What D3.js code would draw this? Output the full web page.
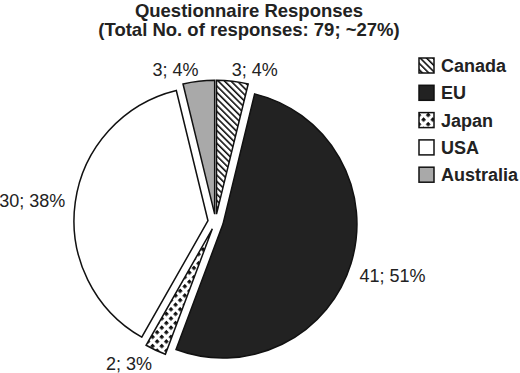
<!DOCTYPE html>
<html lang="en">
<head>
    <meta charset="UTF-8">
    <title>Questionnaire Responses</title>
    <script src="https://d3js.org/d3.v7.min.js"></script>
    <style>
        body { margin: 0; background: #fff; }
        text { font-family: "Liberation Sans", Arial, Helvetica, sans-serif; }
    </style>
</head>
<body>
<div id="chart"></div>

<script>

// data
const regions = ["Canada", "EU", "Japan", "USA", "Australia"];
const responses = [3, 41, 2, 30, 3];
const percents = [4, 51, 3, 38, 4];
const titleLines = ["Questionnaire Responses", "(Total No. of responses: 79; ~27%)"];

const width = 520;
const height = 373;
const cx = 215.6, cy = 221.8;
const radius = 134;
const explode = 7.7;
const labelRadius = 145;

const svg = d3.select("#chart")
    .append("svg")
    .attr("width", width)
    .attr("height", height);

// fill patterns
const defs = svg.append("defs");

const stripes = defs.append("pattern")
    .attr("id", "pat-canada")
    .attr("patternUnits", "userSpaceOnUse")
    .attr("width", 4.5)
    .attr("height", 4.5)
    .attr("patternTransform", "rotate(-45)");
stripes.append("rect").attr("width", 4.5).attr("height", 4.5).attr("fill", "#fff");
stripes.append("rect").attr("width", 1.6).attr("height", 4.5).attr("fill", "#111");

const checks = defs.append("pattern")
    .attr("id", "pat-japan")
    .attr("patternUnits", "userSpaceOnUse")
    .attr("width", 6.5)
    .attr("height", 6.5)
    .attr("patternTransform", "rotate(45)");
checks.append("rect").attr("width", 6.5).attr("height", 6.5).attr("fill", "#fff");
checks.append("rect").attr("width", 3.4).attr("height", 3.4).attr("fill", "#111");

const fills = d3.scaleOrdinal()
    .domain(regions)
    .range(["url(#pat-canada)", "#222222", "url(#pat-japan)", "#ffffff", "#a9a9a9"]);

// title
svg.append("g")
    .selectAll("text")
    .data(titleLines)
    .enter().append("text")
    .attr("x", 249)
    .attr("y", (d, i) => 17 + i * 19)
    .attr("text-anchor", "middle")
    .attr("font-size", 18.5)
    .attr("font-weight", "bold")
    .attr("fill", "#222")
    .text(d => d);

// pie
const pie = d3.pie().sort(null).value(d => d.value);
const arcs = pie(regions.map((r, i) => ({ name: r, value: responses[i], pct: percents[i] })));

const arc = d3.arc().innerRadius(0).outerRadius(radius);

function midAngle(d) { return (d.startAngle + d.endAngle) / 2; }

const slices = svg.append("g")
    .attr("transform", `translate(${cx},${cy})`);

slices.selectAll("path")
    .data(arcs)
    .enter().append("path")
    .attr("transform", d => {
        const a = midAngle(d);
        return `translate(${explode * Math.sin(a)},${-explode * Math.cos(a)})`;
    })
    .attr("d", arc)
    .attr("fill", d => fills(d.data.name))
    .attr("stroke", "#111")
    .attr("stroke-width", 1.5)
    .attr("stroke-linejoin", "miter");

// labels sit just outside the rim, pushed down a bit on the lower half
slices.selectAll("text")
    .data(arcs)
    .enter().append("text")
    .attr("x", d => {
        const a = midAngle(d);
        return (explode + labelRadius) * Math.sin(a) + (a < Math.PI ? -2 : 1);
    })
    .attr("y", d => {
        const a = midAngle(d);
        return -(explode + labelRadius) * Math.cos(a) + 3.5 * Math.max(0, -Math.cos(a)) + (d.data.name == "EU" ? 8 : 0);
    })
    .attr("dy", "0.35em")
    .attr("text-anchor", d => midAngle(d) < Math.PI ? "start" : "end")
    .attr("font-size", 18)
    .attr("fill", "#222")
    .text(d => `${d.data.value}; ${d.data.pct}%`);

// legend
const legend = svg.append("g")
    .attr("transform", "translate(419,58)");

const rows = legend.selectAll("g")
    .data(regions)
    .enter().append("g")
    .attr("transform", (d, i) => `translate(0,${i * 27.3})`);

rows.append("rect")
    .attr("width", 15)
    .attr("height", 15)
    .attr("fill", d => fills(d))
    .attr("stroke", "#111")
    .attr("stroke-width", 1.5);

rows.append("text")
    .attr("x", 22)
    .attr("y", 14)
    .attr("font-size", 18)
    .attr("font-weight", "bold")
    .attr("fill", "#222")
    .text(d => d);

</script>
</body>
</html>
